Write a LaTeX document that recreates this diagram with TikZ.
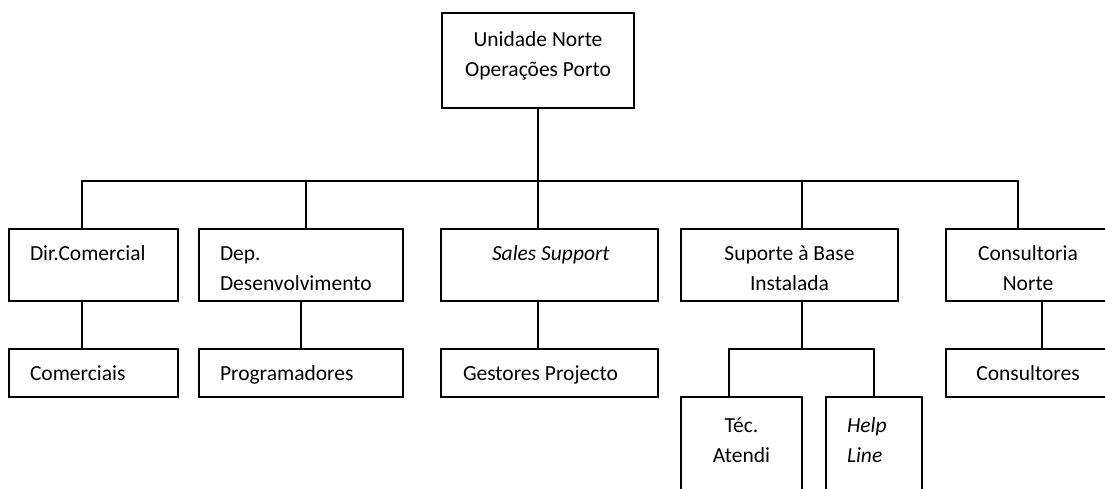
\documentclass[tikz,border=0pt]{standalone}
\usepackage{fontspec}
\setmainfont{Carlito}
\usetikzlibrary{positioning}

\begin{document}
\begin{tikzpicture}[x=1pt,y=-1pt,line width=1.5pt,font=\fontsize{21.5}{30}\selectfont]
\tikzstyle{box}=[draw,rectangle,inner sep=0pt]
\tikzstyle{lbl}=[anchor=north west,inner sep=0pt,align=left,execute at begin node=\strut]
\tikzstyle{lblc}=[anchor=north,inner sep=0pt,align=center,execute at begin node=\strut]

\useasboundingbox (0,0) rectangle (1105,488);
\clip (0,0) rectangle (1105,488);

\node[box,minimum width=192,minimum height=95,label={[lblc,yshift=-12]north:{\strut Unidade Norte\\Operações Porto}}] (top) at (538,60.5) {};

\node[box,minimum width=169,minimum height=72,label={[lbl,xshift=21,yshift=-10]north west:Dir.Comercial}] (dir) at (93.5,265) {};
\node[box,minimum width=204,minimum height=72,label={[lbl,xshift=21,yshift=-10]north west:{\strut Dep.\\Desenvolvimento}}] (dep) at (301,265) {};
\node[box,minimum width=217,minimum height=72,label={[lbl,xshift=51,yshift=-10]north west:\textit{Sales Support}}] (sales) at (549.5,265) {};
\node[box,minimum width=217,minimum height=72,label={[lblc,yshift=-10]north:{\strut Suporte à Base\\Instalada}}] (sup) at (789.5,265) {};
\node[box,minimum width=164,minimum height=72,label={[lblc,yshift=-10]north:{\strut Consultoria\\Norte}}] (cons) at (1028,265) {};

\node[box,minimum width=169,minimum height=48,label={[lbl,xshift=21,yshift=-10]north west:Comerciais}] (com) [below of=dir,node distance=108pt] {};
\node[box,minimum width=204,minimum height=48,label={[lbl,xshift=21,yshift=-10]north west:Programadores}] (prog) [below of=dep,node distance=108pt] {};
\node[box,minimum width=217,minimum height=48,label={[lbl,xshift=22,yshift=-10]north west:Gestores Projecto}] (gest) [below of=sales,node distance=108pt] {};
\node[box,minimum width=164,minimum height=48,label={[lblc,yshift=-10]north:Consultores}] (consu) [below of=cons,node distance=108pt] {};

\node[box,minimum width=121,minimum height=103,label={[lblc,yshift=-14]north:{\strut Téc.\\Atendi}}] (tec) at (741.5,448.5) {};
\node[box,minimum width=96,minimum height=103,label={[lbl,xshift=21,yshift=-14]north west:{\strut\textit{Help}\\\textit{Line}}}] (help) at (874,448.5) {};

\coordinate (bus) at (538,181);
\coordinate (sub) at (802,349);

% main bus
\draw (top.south) -- (top.south |- sales.north);
\draw ([xshift=-11.5]dir.north) |- (bus) -| ([xshift=-10]cons.north);
\draw ([xshift=5]dep.north) |- (bus);
\draw ([xshift=12.5]sup.north) |- (bus);

% second level
\draw ([xshift=-11.5]dir.south) -- ([xshift=-11.5]com.north);
\draw (dep.south) -- (prog.north);
\draw ([xshift=-11.5]sales.south) -- ([xshift=-11.5]gest.north);
\draw ([xshift=14]cons.south) -- ([xshift=14]consu.north);
\draw ([xshift=12.5]sup.south) -- (sub);
\draw ([xshift=-12.5]tec.north) |- (sub) -| (help.north);
\end{tikzpicture}
\end{document}
